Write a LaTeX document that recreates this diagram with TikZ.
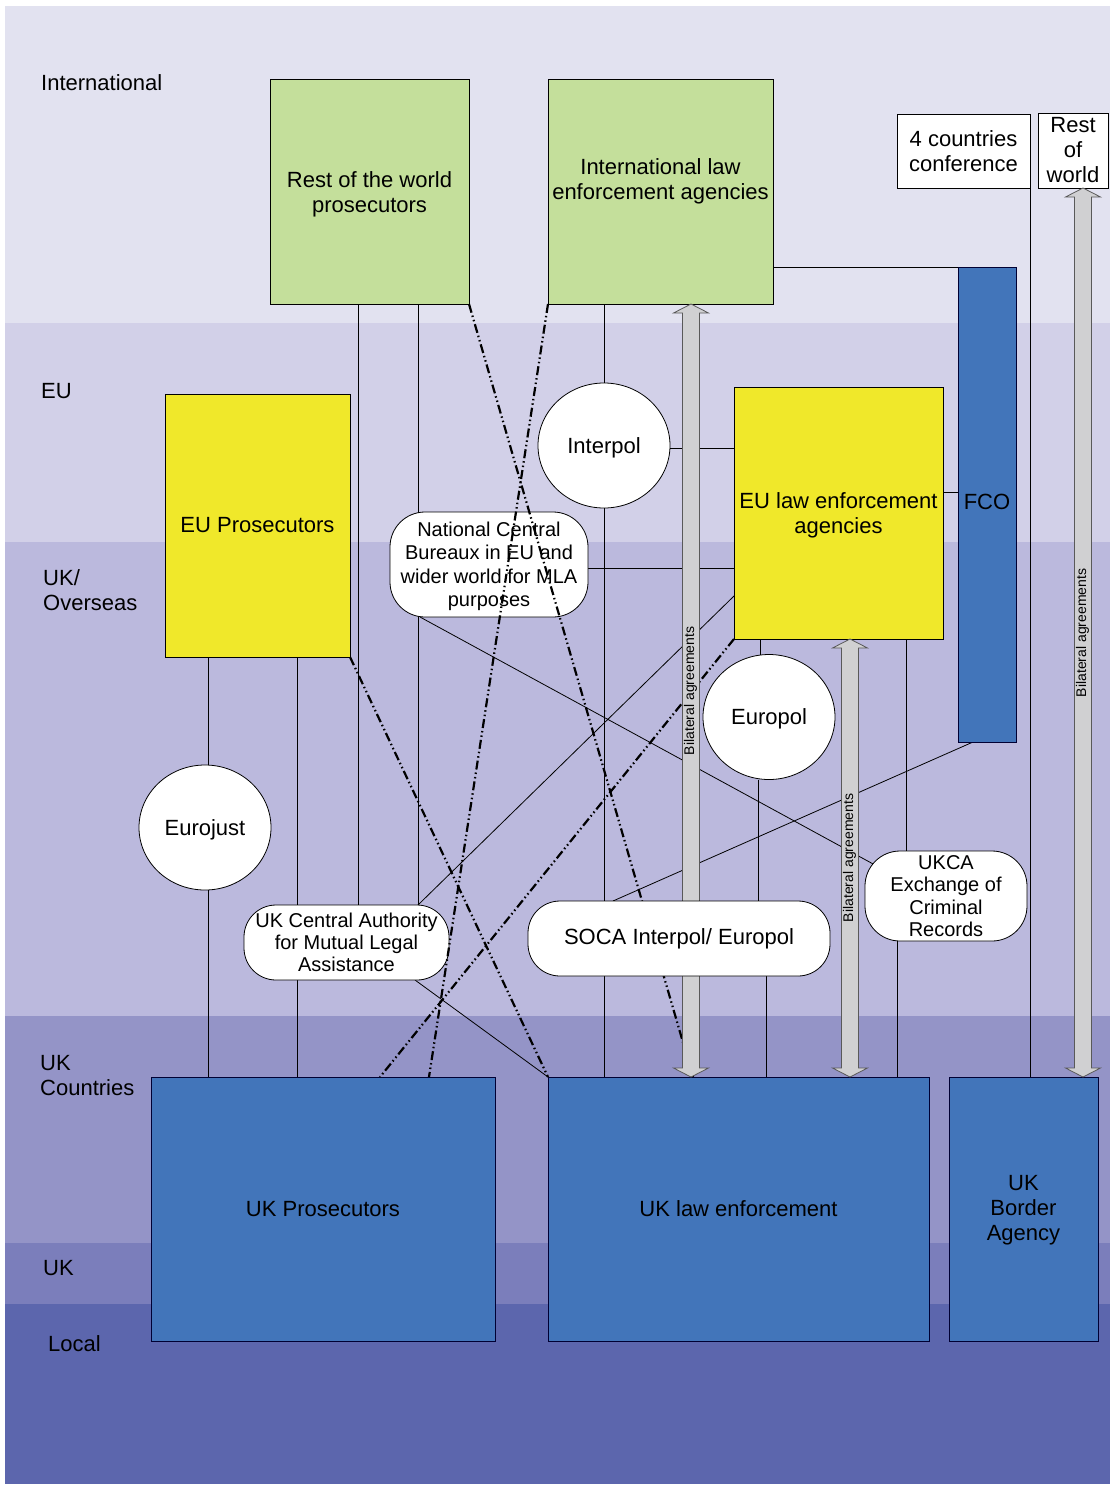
\documentclass[tikz,border=0pt]{standalone}
\usepackage{fontspec}
\setmainfont{Liberation Sans}
\usetikzlibrary{calc,shapes.geometric}
\pgfdeclarelayer{bands}
\pgfdeclarelayer{lines}
\pgfdeclarelayer{dd}
\pgfdeclarelayer{arrows}
\pgfdeclarelayer{top}
\pgfsetlayers{bands,lines,main,dd,arrows,top}
\definecolor{bInt}{HTML}{E2E2F0}
\definecolor{bEU}{HTML}{D2D0E8}
\definecolor{bOver}{HTML}{BBB9DD}
\definecolor{bCtry}{HTML}{9494C7}
\definecolor{bUK}{HTML}{7B7EBB}
\definecolor{bLocal}{HTML}{5C66AD}
\definecolor{cgreen}{HTML}{C4DF9B}
\definecolor{cyellow}{HTML}{F0E82A}
\definecolor{cblue}{HTML}{4275BA}
\definecolor{cgray}{HTML}{D0D0D2}
\tikzset{
  box/.style={draw=black, line width=0.8pt, inner sep=0pt, outer sep=0pt, anchor=north west, align=center, font=\fontsize{22}{25}\selectfont},
  greenbox/.style={box, fill=cgreen},
  yellowbox/.style={box, fill=cyellow},
  bluebox/.style={box, fill=cblue, draw=black!80!blue},
  whitebox/.style={box, fill=white},
  pill/.style={box, fill=white, rounded corners=#1},
  boxlabel/.style={inner sep=0pt, align=center, font=\fontsize{22}{25}\selectfont},
  boxlab/.style 2 args={label={[boxlabel, yshift=#1]center:#2}},
  oval/.style={ellipse, draw=black, line width=0.8pt, fill=white, inner sep=0pt, outer sep=0pt, minimum width=132pt, minimum height=125pt, text depth=0pt, font=\fontsize{22}{25}\selectfont},
  lvl/.style={anchor=west, inner sep=0pt, align=left, font=\fontsize{22}{25}\selectfont},
  conn/.style={draw=black, line width=0.8pt},
  ddline/.style={draw=black, line width=2.2pt, dash pattern=on 9pt off 3pt on 1.5pt off 3pt on 1.5pt off 3pt},
  arrowlabel/.style={inner sep=0pt, font=\fontsize{14}{16}\selectfont, rotate=90}
}
\newcommand{\bidarrow}[2]{%
  \path[draw=black!65, line width=0.8pt, fill=cgray] let \p1=(#1), \p2=(#2) in
   (\x1,\y1) -- (\x1+17.5pt,\y1-9pt) -- (\x1+8.5pt,\y1-9pt) -- (\x1+8.5pt,\y2+9pt)
   -- (\x1+17.5pt,\y2+9pt) -- (\x1,\y2) -- (\x1-17.5pt,\y2+9pt) -- (\x1-8.5pt,\y2+9pt)
   -- (\x1-8.5pt,\y1-9pt) -- (\x1-17.5pt,\y1-9pt) -- cycle;}
\begin{document}
\begin{tikzpicture}[x=1pt,y=-1pt]
\useasboundingbox (0,0) rectangle (1110,1486);
\begin{pgfonlayer}{bands}
\fill[bInt] (5,6) rectangle (1110,323);
\fill[bEU] (5,323) rectangle (1110,542);
\fill[bOver] (5,542) rectangle (1110,1016);
\fill[bCtry] (5,1016) rectangle (1110,1243);
\fill[bUK] (5,1243) rectangle (1110,1304);
\fill[bLocal] (5,1304) rectangle (1110,1484);
\end{pgfonlayer}
% level labels
\node[lvl] (lint) at (41,83) {International};
\node[lvl] (leu) at (41,391) {EU};
\node[lvl] (lover) at (43,590.5) {UK/\\Overseas};
\node[lvl] (lctry) at (40,1075.5) {UK\\Countries};
\node[lvl] (luk) at (43,1268) {UK};
\node[lvl] (llocal) at (48,1344) {Local};
% boxes
\node[greenbox, minimum width=199pt, minimum height=225pt, boxlab={-3pt}{Rest of the world\\prosecutors}] (rwp) at (270,79) {};
\node[greenbox, minimum width=225pt, minimum height=225pt, boxlab={10.5pt}{International law\\enforcement agencies}] (ilea) at (548,79) {};
\node[whitebox, minimum width=133pt, minimum height=74pt] (fourc) at (897,114) {4 countries\\conference};
\node[whitebox, minimum width=70pt, minimum height=75pt] (row) at (1038,113) {Rest\\of\\world};
\node[yellowbox, minimum width=185pt, minimum height=263pt] (eupros) at (165,394) {EU Prosecutors};
\node[yellowbox, minimum width=209pt, minimum height=252pt, boxlab={-2pt}{EU law enforcement\\agencies}] (eulea) at (734,387) {};
\node[bluebox, minimum width=58pt, minimum height=475pt, boxlab={2.5pt}{FCO}] (fco) at (958,267) {};
\node[bluebox, minimum width=344pt, minimum height=264pt] (ukp) at (151,1077) {UK Prosecutors};
\node[bluebox, minimum width=381pt, minimum height=264pt] (ukle) at (548,1077) {UK law enforcement};
\node[bluebox, minimum width=149pt, minimum height=264pt, boxlab={-1.5pt}{UK\\Border\\Agency}] (ukba) at (949,1077) {};
\node[oval] (interpol) at (604,445.5) {Interpol};
\node[oval] (europol) at (769,717) {Europol};
\node[oval] (eurojust) at (205,827.5) {Eurojust};
\node[pill=35pt, minimum width=198pt, minimum height=105pt, label={[boxlabel, font=\fontsize{20}{23.5}\selectfont, yshift=-2pt]center:National Central\\Bureaux in EU and\\wider world for MLA\\purposes}] (ncb) at (390,512) {};
\node[pill=32pt, minimum width=205pt, minimum height=75pt, font=\fontsize{20}{22}\selectfont] (ucauth) at (244,905) {UK Central Authority\\for Mutual Legal\\Assistance};
\node[pill=35pt, minimum width=162pt, minimum height=90pt, font=\fontsize{20}{22.3}\selectfont] (ukca) at (865,851) {UKCA\\Exchange of\\Criminal\\Records};
\begin{pgfonlayer}{top}
\node[pill=32pt, minimum width=302pt, minimum height=75pt] (soca) at (528,901) {SOCA Interpol/ Europol};
\end{pgfonlayer}
% solid connectors
\begin{pgfonlayer}{lines}
\draw[conn] (358,0 |- rwp.south) -- (358,0 |- ucauth.north);
\draw[conn] (418,0 |- rwp.south) -- (418,0 |- ucauth.north);
\draw[conn] (208,0 |- eupros.south) -- (208,0 |- eurojust.north);
\draw[conn] (208,0 |- eurojust.south) -- (208,0 |- ukp.north);
\draw[conn] (297,0 |- eupros.south) -- (297,0 |- ucauth.north);
\draw[conn] (297,0 |- ucauth.south) -- (297,0 |- ukp.north);
\draw[conn] (interpol.north |- ilea.south) -- (interpol.north);
\draw[conn] (interpol.south) -- (interpol.south |- soca.north);
\draw[conn] (604,0 |- soca.south) -- (604,0 |- ukle.north);
\draw[conn] (0,448 -| interpol.east) -- (0,448 -| eulea.west);
\draw[conn] (0,568 -| ncb.east) -- (0,568 -| eulea.west);
\draw[conn] (ilea.east |- fco.north) -- (fco.north west);
\draw[conn] (0,492 -| eulea.east) -- (0,492 -| fco.west);
\draw[conn] (fourc.south east) -- (fourc.south east |- ukba.north);
\draw[conn] (760,0 |- eulea.south) -- (760,0 |- europol.north);
\draw[conn] (758,0 |- europol.south) -- (758,0 |- soca.north);
\draw[conn] (766,0 |- soca.south) -- (766,0 |- ukle.north);
\draw[conn] (906,0 |- eulea.south) -- (906,0 |- ukca.north);
\draw[conn] (897,0 |- ukca.south) -- (897,0 |- ukle.north);
\draw[conn] ([xshift=30pt]ncb.south west) -- ([xshift=10pt,yshift=31pt]ukca.west);
\draw[conn] (418,0 |- ucauth.north) -- ([yshift=43pt]eulea.south west);
\draw[conn] ([xshift=-34pt]ucauth.south east) -- (ukle.north west);
\draw[conn] (613,0 |- soca.north) -- ([xshift=15pt]fco.south west);
\end{pgfonlayer}
% dash-dot connectors
\begin{pgfonlayer}{dd}
\draw[ddline] (rwp.south east) -- (693,0 |- ukle.north);
\draw[ddline] (ilea.south west) -- (429,0 |- ukp.north);
\draw[ddline] (eupros.south east) -- (ukle.north west);
\draw[ddline] (eulea.south west) -- (380,0 |- ukp.north);
\end{pgfonlayer}
% bilateral arrows
\begin{pgfonlayer}{arrows}
\bidarrow{691,0 |- ilea.south}{691,0 |- ukle.north}
\bidarrow{850,0 |- eulea.south}{850,0 |- ukle.north}
\bidarrow{1083,0 |- row.south}{1083,0 |- ukba.north}
\node[arrowlabel] (bl1) at (690.5,691) {Bilateral agreements};
\node[arrowlabel] (bl2) at (849.5,858) {Bilateral agreements};
\node[arrowlabel] (bl3) at (1082.5,633) {Bilateral agreements};
\end{pgfonlayer}
\end{tikzpicture}
\end{document}
